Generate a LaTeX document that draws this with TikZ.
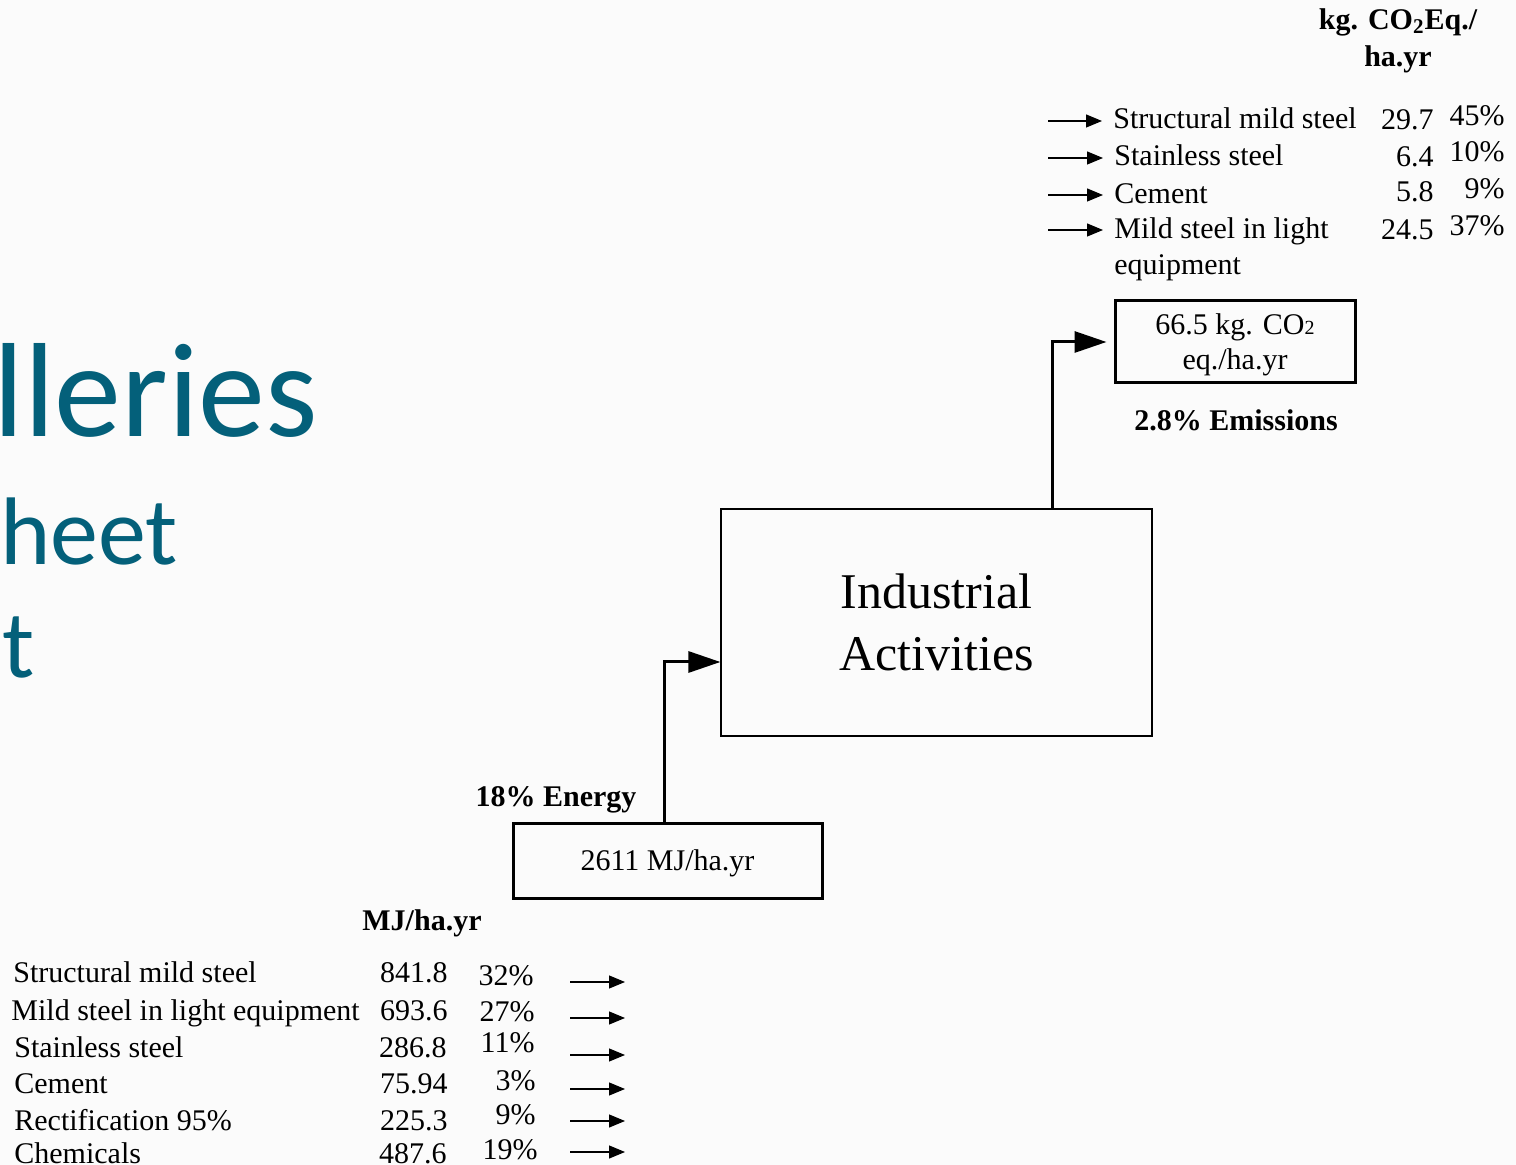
\documentclass[tikz,border=0pt]{standalone}
\usepackage{fontspec}
\setmainfont{Liberation Serif}
\newfontfamily\slidefont{Carlito}
\usetikzlibrary{arrows.meta,positioning}
\definecolor{slideteal}{RGB}{4,96,122}
\definecolor{paper}{RGB}{251,251,251}

\begin{document}
\begin{tikzpicture}
[x=0.5pt,y=-0.5pt,
txt/.style={inner sep=0pt,font=\fontsize{15}{18}\selectfont},
hdr/.style={inner sep=0pt,font=\fontsize{15}{18.5}\selectfont\bfseries},
thinbox/.style={rectangle,draw,line width=0.6pt,inner sep=0pt},
thickbox/.style={rectangle,draw,line width=1.5pt,inner sep=0pt,align=center,font=\fontsize{15}{17.5}\selectfont},
bigflow/.style={line width=1.5pt,-{Triangle[length=16pt,width=10.5pt]}},
flow/.style={line width=0.6pt,-{Triangle[length=8pt,width=6.5pt]}},
slide/.style={inner sep=0pt,anchor=base west,text=slideteal}]
\useasboundingbox (0,0) rectangle (1516,1165);
\fill[paper] (0,0) rectangle (1516,1165);

% slide title behind the figure
\node (title1) at (-7,437) [slide,font=\slidefont\fontsize{67}{67}\selectfont] {lleries};
\node (title2) at (0,565) [slide,font=\slidefont\fontsize{48}{48}\selectfont] {heet};
\node (title3) at (2,678) [slide,font=\slidefont\fontsize{48}{48}\selectfont] {t};

% boxes
\node (industry) at (936.5,622.5) [thinbox,minimum width=215.5pt,minimum height=113.5pt,align=center,font=\fontsize{25}{31}\selectfont] {Industrial\\Activities};
\node (energy) at (667.5,860.5) [thickbox,minimum width=154.5pt,minimum height=37.5pt,text depth=0.3pt] {2611 MJ/ha.yr};
\node (emis) at (1235,342) [thickbox,minimum width=120pt,minimum height=41pt,text depth=0pt] {66.5 kg. CO{\fontsize{10}{12}\selectfont 2}\\eq./ha.yr};

\draw[bigflow] ([xshift=-1.5pt]energy.north) |- ([yshift=-19.75pt]industry.west);
\draw[bigflow] ([xshift=57.75pt]industry.north) |- ([xshift=-3.5pt]emis.west);

\node (energylbl) at (556,800) [hdr] {18\% Energy};
\node (emislbl) at (1236,420) [hdr] {2.8\% Emissions};
\node (mjhead) at (422,923) [hdr] {MJ/ha.yr};
\node (kghead) at (1398,41) [hdr,align=center] {kg. CO\textsubscript{2}Eq./\\ha.yr};

% emissions list
\node (s1) at (1113,129) [txt,anchor=base west] {Structural mild steel};
\node (s2) at (1114,166) [txt,anchor=base west] {Stainless steel};
\node (s3) at (1114,204) [txt,anchor=base west] {Cement};
\node (s4) at (1114,275) [txt,anchor=base west,align=left] {Mild steel in light\\equipment};
\node (sv1) at (1434,130) [txt,anchor=base east] {29.7};
\node (sv2) at (1434,167) [txt,anchor=base east] {6.4};
\node (sv3) at (1434,202) [txt,anchor=base east] {5.8};
\node (sv4) at (1434,240) [txt,anchor=base east] {24.5};
\node (sp1) at (1505,126) [txt,anchor=base east] {45\%};
\node (sp2) at (1505,162) [txt,anchor=base east] {10\%};
\node (sp3) at (1505,199) [txt,anchor=base east] {9\%};
\node (sp4) at (1505,236) [txt,anchor=base east] {37\%};
\foreach \y [count=\i] in {121,158,195,230}{
  \coordinate (sa\i) at (1048,\y);
  \draw[flow,shorten >=5.5pt] (sa\i) -- (sa\i -| s\i.west);
}

% energy list
\node (e1) at (13,982) [txt,anchor=base west] {Structural mild steel};
\node (e2) at (11,1020) [txt,anchor=base west] {Mild steel in light equipment};
\node (e3) at (14,1057) [txt,anchor=base west] {Stainless steel};
\node (e4) at (14,1093) [txt,anchor=base west] {Cement};
\node (e5) at (14,1130) [txt,anchor=base west] {Rectification 95\%};
\node (e6) at (14,1163) [txt,anchor=base west] {Chemicals};
\node (ev1) at (448,982) [txt,anchor=base east] {841.8};
\node (ev2) at (448,1020) [txt,anchor=base east] {693.6};
\node (ev3) at (447,1057) [txt,anchor=base east] {286.8};
\node (ev4) at (448,1093) [txt,anchor=base east] {75.94};
\node (ev5) at (448,1130) [txt,anchor=base east] {225.3};
\node (ev6) at (447,1163) [txt,anchor=base east] {487.6};
\node (ep1) at (534,985) [txt,anchor=base east] {32\%};
\node (ep2) at (535,1021) [txt,anchor=base east] {27\%};
\node (ep3) at (535,1052) [txt,anchor=base east] {11\%};
\node (ep4) at (536,1090) [txt,anchor=base east] {3\%};
\node (ep5) at (536,1124) [txt,anchor=base east] {9\%};
\node (ep6) at (538,1159) [txt,anchor=base east] {19\%};
\foreach \y [count=\i] in {982,1018,1055,1089,1121,1152}{
  \coordinate (ea\i) at (570,\y);
  \coordinate (eb\i) at (625,\y);
  \draw[flow] (ea\i) -- (eb\i);
}
\end{tikzpicture}
\end{document}
